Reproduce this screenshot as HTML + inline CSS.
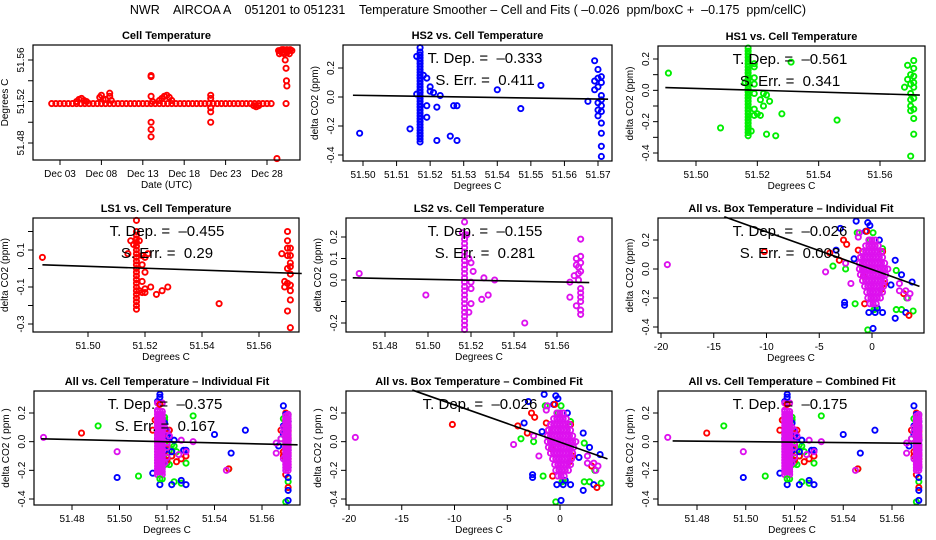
<!DOCTYPE html>
<html><head><meta charset="utf-8"><style>
html,body{margin:0;padding:0;background:#fff;}
svg{display:block;font-family:"Liberation Sans",Arial,sans-serif;}
</style></head><body>
<svg id="chart" width="936" height="540" viewBox="0 0 936 540" xmlns="http://www.w3.org/2000/svg">
<rect x="0" y="0" width="936" height="540" fill="#fff"/>
<text x="468" y="14" text-anchor="middle" font-size="12.5" style="white-space:pre" xml:space="preserve">NWR    AIRCOA A    051201 to 051231    Temperature Smoother – Cell and Fits ( –0.026  ppm/boxC +  –0.175  ppm/cellC)</text>
</svg>
<script>
// ---------- data ----------
const p1BaseDays=[2,2.5,3,3.5,4,4.5,5,5.5,6,6.5,7,7.5,8,8.5,9,9.5,10,10.5,11,11.5,12,12.5,13,13.5,14,14.5,15,15.5,16,16.5,17,17.5,18,18.5,19,19.5,20,20.5,21,21.5,22,22.5,23,23.5,24,24.5,25,25.5,26,26.5,27,27.5,28,28.5];
const p1BaseTemp=51.518;
const p1Days=[5,5.3,5.6,5.9,6.2,7.8,8,8.2,8.5,9,9,9.2,14,14,14,14,14,14,14.2,15,15.3,15.6,15.9,16.2,16.5,21.2,21.2,21.2,21.2,21.2,26.4,26.7,27,29.2,29.4,29.6,29.8,30,30.2,30.4,30.6,30.8,31,29.5,29.8,30.1,30.4,30.7,30.3,30.35,30.4,30.3,30.2];
const p1Temps=[51.520,51.522,51.523,51.521,51.520,51.524,51.526,51.522,51.522,51.528,51.525,51.521,51.544,51.545,51.525,51.5,51.493,51.486,51.520,51.521,51.523,51.525,51.526,51.524,51.521,51.526,51.523,51.514,51.510,51.500,51.516,51.515,51.516,51.465,51.569,51.569,51.570,51.570,51.569,51.570,51.569,51.570,51.569,51.566,51.567,51.566,51.567,51.566,51.552,51.540,51.535,51.518,51.560];

const hs2ColX=51.517;
const hs2ColY=[-0.31,-0.29,-0.27,-0.25,-0.23,-0.21,-0.19,-0.17,-0.15,-0.13,-0.11,-0.09,-0.07,-0.05,-0.03,-0.01,0.01,0.03,0.05,0.07,0.09,0.11,0.13,0.15,0.17,0.19,0.21,0.23,0.25,0.27,0.29,0.31,0.34];
const hs2X=[51.516,51.514,51.499,51.516,51.518,51.519,51.519,51.519,51.520,51.520,51.521,51.522,51.522,51.523,51.526,51.527,51.528,51.528,51.540,51.547,51.553,51.567,51.569,51.569,51.569,51.570,51.570,51.570,51.570,51.570,51.570,51.571,51.571,51.571,51.571,51.571,51.571,51.571,51.571,51.571,51.571];
const hs2Y=[0.28,-0.22,-0.25,0.02,0.15,0.13,-0.06,-0.14,0.07,0.04,0.03,-0.07,-0.30,0.01,-0.27,-0.06,-0.06,-0.30,0.05,-0.08,0.08,-0.03,0.25,0.11,0.05,0.19,0.13,0.07,-0.04,-0.09,-0.13,0.14,0.10,0.01,-0.02,-0.06,-0.10,-0.18,-0.25,-0.34,-0.41];

const hs1ColX=51.517;
const hs1ColY=[-0.29,-0.27,-0.25,-0.23,-0.21,-0.19,-0.17,-0.15,-0.13,-0.11,-0.09,-0.07,-0.05,-0.03,-0.01,0.01,0.03,0.05,0.07,0.09,0.11,0.13,0.15,0.17,0.19,0.21,0.23,0.25,0.27];
const hs1X=[51.491,51.508,51.516,51.518,51.519,51.519,51.519,51.519,51.519,51.519,51.519,51.520,51.521,51.521,51.522,51.522,51.523,51.523,51.524,51.526,51.528,51.531,51.546,51.568,51.569,51.569,51.570,51.570,51.570,51.570,51.570,51.570,51.570,51.571,51.571,51.571,51.571,51.571,51.571,51.571,51.571,51.571];
const hs1Y=[0.11,-0.24,0.05,-0.26,0.17,0.15,0.08,0.04,-0.02,-0.12,-0.16,-0.15,-0.06,-0.16,-0.02,-0.10,-0.03,-0.28,-0.07,-0.29,-0.15,0.18,-0.19,0.02,0.16,0.07,0.10,0.04,-0.02,-0.06,-0.10,-0.13,-0.42,0.19,0.14,0.09,0.05,0.02,-0.05,-0.12,-0.18,-0.28];

const ls1ColX=51.517;
const ls1ColY=[-0.22,-0.20,-0.18,-0.16,-0.14,-0.12,-0.10,-0.08,-0.06,-0.04,-0.02,0,0.02,0.04,0.06,0.08,0.10,0.12,0.14,0.16,0.18,0.20,0.26];
const ls1X=[51.484,51.514,51.515,51.516,51.518,51.519,51.520,51.521,51.519,51.520,51.519,51.518,51.519,51.520,51.520,51.522,51.524,51.526,51.528,51.546,51.568,51.569,51.569,51.570,51.570,51.570,51.570,51.570,51.570,51.570,51.571,51.571,51.571,51.571,51.571,51.571,51.571,51.571,51.571];
const ls1Y=[0.06,0.08,0.15,0.13,0.15,0.07,0.06,0.08,0.02,-0.02,-0.07,-0.12,-0.13,-0.13,-0.11,-0.10,-0.14,-0.12,-0.10,-0.19,0.08,-0.07,-0.10,0.20,0.15,0.11,0.07,0.0,-0.08,-0.23,0.11,0.07,0.03,0.01,-0.03,-0.09,-0.12,-0.17,-0.32];

const ls2ColX=51.517;
const ls2ColY=[-0.23,-0.21,-0.19,-0.17,-0.15,-0.13,-0.11,-0.09,-0.07,-0.05,-0.03,-0.01,0.01,0.03,0.05,0.07,0.09,0.11,0.13,0.15,0.17,0.19,0.21,0.27];
const ls2X=[51.468,51.499,51.516,51.518,51.519,51.520,51.521,51.520,51.520,51.520,51.519,51.525,51.526,51.528,51.531,51.545,51.566,51.566,51.568,51.569,51.569,51.569,51.570,51.570,51.570,51.571,51.571,51.571,51.571,51.571,51.571,51.571,51.571,51.571,51.571];
const ls2Y=[0.03,-0.07,0.22,0.21,0.10,0.08,0.04,-0.01,-0.04,-0.11,-0.15,-0.09,0.01,-0.07,0.0,-0.20,-0.01,-0.08,0.02,0.10,0.07,-0.12,0.06,0.03,0.0,0.19,0.11,0.08,0.04,-0.04,-0.06,-0.08,-0.10,-0.14,-0.16];
const cellColX2=51.571;
const cellColY2=[-0.2,-0.18,-0.16,-0.14,-0.12,-0.10,-0.08,-0.06,-0.04,-0.02,0,0.02,0.04,0.06,0.08,0.10,0.12,0.14,0.16,0.18];

const boxMagX=[-19.4,-4.4,-2.0,-2.5,-1.3,-1.2,2.6,2.6,3.2,3.4,3.6,-0.9];
const boxMagY=[0.03,-0.02,-0.10,0.04,0.22,0.25,-0.10,-0.15,-0.15,-0.20,-0.17,0.0];
const boxRedX=[-10.2,-4.0,-3.1,-2.7,-2.4,-1.3,-1.1,-0.7,-0.5,-0.8,1.0,0.9,3.0,3.5,1.2];
const boxRedY=[0.12,0.11,0.06,0.20,0.17,0.13,0.08,-0.24,0.26,-0.05,0.12,-0.14,-0.17,-0.32,-0.10];
const boxBlueX=[-3.4,-3.0,-2.6,-2.6,-1.5,-1.7,-0.6,-0.4,-0.2,0.7,2.2,2.2,2.8,3.2,3.8,-0.3,0.1,0.3,1.0,1.8,0.5];
const boxBlueY=[0.13,0.28,-0.23,-0.25,0.33,0.07,0.26,0.32,0.30,0.20,0.06,-0.34,-0.04,-0.30,-0.09,-0.30,-0.41,-0.30,-0.30,-0.11,-0.27];
const boxGreenX=[-3.7,-2.5,-1.4,-1.6,-0.2,0.1,1.0,2.3,2.3,2.8,3.9,-0.4,0.3,0.2,3.3];
const boxGreenY=[0.02,0.0,0.25,-0.24,0.20,0.25,0.14,-0.01,-0.28,-0.28,-0.29,-0.42,-0.27,-0.28,-0.20];
const clusterY=[0.20,0.16,0.12,0.08,0.04,0.00,-0.04,-0.08,-0.12,-0.16,-0.20,-0.24];
const clusterX=[[-0.3,0,0.3],[-0.6,-0.3,0,0.3,0.6],[-0.9,-0.6,-0.3,0,0.3,0.6,0.9],[-1.1,-0.8,-0.5,-0.2,0.1,0.4,0.7,1.0],[-1.2,-0.9,-0.6,-0.3,0,0.3,0.6,0.9,1.2],[-1.2,-0.9,-0.6,-0.3,0,0.3,0.6,0.9,1.2,1.5],[-1.1,-0.8,-0.5,-0.2,0.1,0.4,0.7,1.0,1.3],[-0.9,-0.6,-0.3,0,0.3,0.6,0.9,1.2],[-0.7,-0.4,-0.1,0.2,0.5,0.8,1.1],[-0.5,-0.2,0.1,0.4,0.7,1.0],[-0.4,-0.1,0.2,0.5,0.8],[-0.2,0.1,0.4]];

// fit lines [x0,y0,x1,y1]
const fitHS2=[51.497,0.012,51.573,-0.015];
const fitHS1=[51.490,0.018,51.573,-0.030];
const fitLS1=[51.484,0.020,51.575,-0.027];
const fitLS2=[51.465,0.010,51.575,-0.012];
const fitBox=[-14,0.36,4.5,-0.12];
const fitCellInd=[51.467,0.02,51.575,-0.022];
const fitCellComb=[51.470,0.005,51.572,-0.012];

const dayTicks=[3,8,13,18,23,28];
const dayLabels=["Dec 03","Dec 08","Dec 13","Dec 18","Dec 23","Dec 28"];

// ---------- drawing ----------
const NS="http://www.w3.org/2000/svg";
const svg=document.getElementById('chart');
const RED="#ff0000",BLUE="#0000ff",GREEN="#00ee00",MAG="#dd11ee";
function mk(tag,attrs,parent){const e=document.createElementNS(NS,tag);for(const k in attrs)e.setAttribute(k,attrs[k]);(parent||svg).appendChild(e);return e;}
function lin(d0,p0,d1,p1){return v=>p0+(v-d0)*(p1-p0)/(d1-d0);}

function panel(c){
  const g=mk('g',{});
  
  
  const t=mk('text',{x:(c.L+c.R)/2,y:c.T-6,'text-anchor':'middle','font-size':11,'font-weight':'bold'},g);
  t.textContent=c.title;
  
  
  const pts=mk('g',{},g);
  
  
  c.pts=pts;
  const box=mk('rect',{x:c.L,y:c.T,width:c.R-c.L,height:c.B-c.T,fill:'none',stroke:'#000','stroke-width':1.2},g);
  
  
  c.xt.forEach((v,i)=>{const px=c.sx(v);
    mk('line',{x1:px,x2:px,y1:c.B,y2:c.B+5,stroke:'#000'},g);
    const lb=mk('text',{x:px,y:c.B+17,'text-anchor':'middle','font-size':10},g);
    lb.textContent=c.xl[i];
    
    });
  c.yt.forEach((v,i)=>{const py=c.sy(v);
    mk('line',{x1:c.L-5,x2:c.L,y1:py,y2:py,stroke:'#000'},g);
    if(c.yl[i]){const lb=mk('text',{x:c.L-9,y:py,'text-anchor':'middle','font-size':10,transform:`rotate(-90 ${c.L-9} ${py})`},g);
    lb.textContent=c.yl[i];
    
    }});
  const xt=mk('text',{x:(c.L+c.R)/2,y:c.B+28,'text-anchor':'middle','font-size':10},g);
  xt.textContent=c.xlab;
  
  
  const cy=(c.T+c.B)/2, yx=c.L-25;
  const yt=mk('text',{x:yx,y:cy,'text-anchor':'middle','font-size':10,transform:`rotate(-90 ${yx} ${cy})`},g);
  yt.textContent=c.ylab;
  
  
  (c.notes||[]).forEach((s,i)=>{const n=mk('text',{x:c.nx,y:c.T+18+i*22,'text-anchor':'middle','font-size':15,style:'white-space:pre'},g);
    n.textContent=s;
    
    });
  return c;
}
function pt(c,x,y,col){
  const e=mk('circle',{cx:c.sx(x),cy:c.sy(y),r:2.6,fill:'none',stroke:col,'stroke-width':1.9},c.pts);
  
  
}
function series(c,xs,ys,col){xs.forEach((x,i)=>pt(c,x,ys[i],col));}
function column(c,x,ys,col){ys.forEach(y=>pt(c,x,y,col));}
function cluster(c,col){clusterY.forEach((y,i)=>clusterX[i].forEach(x=>pt(c,x,y,col)));}
function fit(c,f){
  const l=mk('line',{x1:c.sx(f[0]),y1:c.sy(f[1]),x2:c.sx(f[2]),y2:c.sy(f[3]),stroke:'#000','stroke-width':1.6},c.pts);
  
  
}
const dco2="delta CO2 (ppm)",degc="Degrees C";
const cellT4=[51.48,51.50,51.52,51.54,51.56],cellL4=["51.48","51.50","51.52","51.54","51.56"];
const cellT3=[51.50,51.52,51.54,51.56],cellL3=["51.50","51.52","51.54","51.56"];
const yT4=[0.2,0,-0.2,-0.4],yL4=["0.2","0.0","-0.2","-0.4"];

const P1=panel({name:'cell-temperature-panel',title:'Cell Temperature',L:33,R:300,T:45,B:160,
  sx:lin(3,60,28,267),sy:lin(51.48,143,51.56,60),xt:dayTicks,xl:dayLabels,
  yt:[51.48,51.50,51.52,51.54,51.56],yl:["51.48","","51.52","","51.56"],xlab:'Date (UTC)',ylab:'Degrees C'});
p1BaseDays.forEach(d=>pt(P1,d,p1BaseTemp,RED));
series(P1,p1Days,p1Temps,RED);

const P2=panel({name:'hs2-panel',title:'HS2 vs. Cell Temperature',L:343,R:612,T:45,B:161,
  sx:lin(51.50,363,51.57,598),sy:lin(0.2,68,-0.4,155),
  xt:[51.50,51.51,51.52,51.53,51.54,51.55,51.56,51.57],xl:["51.50","51.51","51.52","51.53","51.54","51.55","51.56","51.57"],
  yt:yT4,yl:yL4,xlab:degc,ylab:dco2,nx:485,notes:['T. Dep. =  –0.333','S. Err. =  0.411']});
column(P2,hs2ColX,hs2ColY,BLUE);series(P2,hs2X,hs2Y,BLUE);fit(P2,fitHS2);

const P3=panel({name:'hs1-panel',title:'HS1 vs. Cell Temperature',L:658,R:925,T:46,B:161,
  sx:lin(51.50,696,51.56,880),sy:lin(0.2,59,-0.4,153),xt:cellT3,xl:cellL3,
  yt:[0.2,0.1,0,-0.1,-0.2,-0.3,-0.4],yl:["0.2","","0.0","","-0.2","","-0.4"],xlab:degc,ylab:dco2,nx:790,notes:['T. Dep. =  –0.561','S. Err. =  0.341']});
column(P3,hs1ColX,hs1ColY,GREEN);series(P3,hs1X,hs1Y,GREEN);fit(P3,fitHS1);

const P4=panel({name:'ls1-panel',title:'LS1 vs. Cell Temperature',L:33,R:299,T:218,B:332,
  sx:lin(51.50,88,51.56,259),sy:lin(0.1,250,-0.3,324),xt:cellT3,xl:cellL3,
  yt:[0.2,0.1,0,-0.1,-0.2,-0.3],yl:["","0.1","","-0.1","","-0.3"],xlab:degc,ylab:dco2,nx:167,notes:['T. Dep. =  –0.455','S. Err. =  0.29']});
column(P4,ls1ColX,ls1ColY,RED);series(P4,ls1X,ls1Y,RED);fit(P4,fitLS1);

const P5=panel({name:'ls2-panel',title:'LS2 vs. Cell Temperature',L:346,R:612,T:218,B:332,
  sx:lin(51.48,385,51.56,557),sy:lin(0.2,237,-0.2,323),xt:cellT4,xl:cellL4,
  yt:[0.2,0.1,0,-0.1,-0.2],yl:["0.2","0.1","0.0","","-0.2"],xlab:degc,ylab:dco2,nx:485,notes:['T. Dep. =  –0.155','S. Err. =  0.281']});
column(P5,ls2ColX,ls2ColY,MAG);series(P5,ls2X,ls2Y,MAG);fit(P5,fitLS2);

function boxPanel(c){
  series(c,boxGreenX,boxGreenY,GREEN);series(c,boxBlueX,boxBlueY,BLUE);series(c,boxRedX,boxRedY,RED);
  cluster(c,MAG);series(c,boxMagX,boxMagY,MAG);fit(c,fitBox);
}
const P6=panel({name:'all-box-individual-panel',title:'All vs. Box Temperature – Individual Fit',L:658,R:924,T:218,B:333,
  sx:lin(-20,661,0,872),sy:lin(0.2,240,-0.4,327),xt:[-20,-15,-10,-5,0],xl:["-20","-15","-10","-5","0"],
  yt:yT4,yl:yL4,xlab:degc,ylab:dco2,nx:790,notes:['T. Dep. =  –0.026','S. Err. =  0.003']});
boxPanel(P6);
const P8=panel({name:'all-box-combined-panel',title:'All vs. Box Temperature – Combined Fit',L:346,R:612,T:391,B:505,
  sx:lin(-20,349,0,560),sy:lin(0.2,413,-0.4,499),xt:[-20,-15,-10,-5,0],xl:["-20","-15","-10","-5","0"],
  yt:yT4,yl:yL4,xlab:degc,ylab:'delta CO2 ( ppm )',nx:480,notes:['T. Dep. =  –0.026']});
boxPanel(P8);

function cellAll(c,f){
  series(c,hs1X,hs1Y,GREEN);series(c,ls1X,ls1Y,RED);series(c,hs2X,hs2Y,BLUE);series(c,ls2X,ls2Y,MAG);
  column(c,ls2ColX-0.001,ls2ColY,MAG);column(c,ls2ColX,ls2ColY,MAG);column(c,ls2ColX+0.001,ls2ColY,MAG);
  column(c,cellColX2-0.001,cellColY2,MAG);column(c,cellColX2,cellColY2,MAG);
  pt(c,hs2ColX,0.33,BLUE);pt(c,hs2ColX,0.31,BLUE);pt(c,hs2ColX,-0.30,BLUE);pt(c,hs1ColX,-0.26,GREEN);pt(c,ls1ColX,0.26,RED);
  fit(c,f);
}
const P7=panel({name:'all-cell-individual-panel',title:'All vs. Cell Temperature – Individual Fit',L:34,R:300,T:391,B:505,
  sx:lin(51.48,72,51.56,262),sy:lin(0.2,413,-0.4,499),xt:cellT4,xl:cellL4,
  yt:yT4,yl:yL4,xlab:degc,ylab:'delta CO2 ( ppm )',nx:165,notes:['T. Dep. =  –0.375','S. Err. =  0.167']});
cellAll(P7,fitCellInd);
const P9=panel({name:'all-cell-combined-panel',title:'All vs. Cell Temperature – Combined Fit',L:658,R:926,T:391,B:505,
  sx:lin(51.48,697,51.56,892),sy:lin(0.2,413,-0.4,499),xt:cellT4,xl:cellL4,
  yt:yT4,yl:yL4,xlab:degc,ylab:'delta CO2 ( ppm )',nx:790,notes:['T. Dep. =  –0.175']});
cellAll(P9,fitCellComb);
</script>
</body></html>
